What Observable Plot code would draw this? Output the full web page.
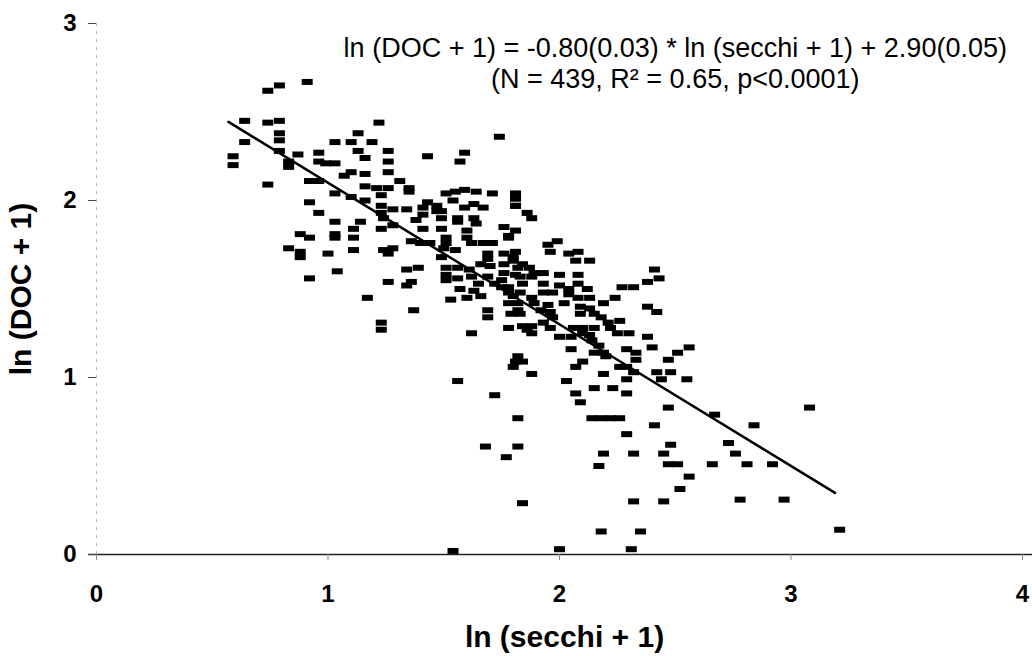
<!DOCTYPE html>
<html>
<head>
<meta charset="utf-8">
<script src="https://cdn.jsdelivr.net/npm/d3@7"></script>
<script src="https://cdn.jsdelivr.net/npm/@observablehq/plot@0.6"></script>
<style>
  html, body { margin: 0; padding: 0; background: #fff; }
  #chart svg text { font-family: "Liberation Sans", Arial, sans-serif; fill: #000; }
  #chart [aria-label="x-axis tick label"] text,
  #chart [aria-label="y-axis tick label"] text { font-size: 24px; font-weight: bold; }
  #chart [aria-label="x-axis label"] text,
  #chart [aria-label="y-axis label"] text { font-size: 30px; font-weight: bold; }
</style>
</head>
<body>
<div id="chart"></div>
<script>
// ---- data ----
const secchi = [
  0.91,0.79,0.74,0.64,0.74,0.79,0.79,0.79,0.64,0.79,0.87,0.59,0.59,0.83,0.83,0.96,0.96,0.99,1.03,1.03,
  1.10,1.13,1.13,1.16,1.10,1.07,1.16,0.92,0.96,0.74,1.03,1.10,1.16,1.16,0.92,0.96,1.03,1.14,0.88,0.92,
  1.03,1.03,1.11,1.11,0.83,0.88,0.88,1.00,1.11,1.04,0.92,1.22,1.74,1.19,1.26,1.43,1.59,1.57,1.26,1.26,
  1.31,1.21,1.26,1.35,1.35,1.51,1.55,1.59,1.64,1.71,1.81,1.81,1.23,1.43,1.47,1.47,1.54,1.63,1.67,1.59,
  1.23,1.28,1.34,1.41,1.41,1.49,1.49,1.23,1.24,1.38,1.56,1.56,1.63,1.64,1.28,1.41,1.49,1.60,1.76,1.23,
  1.36,1.40,1.44,1.51,1.51,1.60,1.62,1.67,1.71,1.78,1.24,1.28,1.26,1.50,1.55,1.49,1.69,1.69,1.76,1.80,
  1.66,1.70,1.76,1.76,1.39,1.34,1.51,1.56,1.61,1.81,1.51,1.51,1.56,1.62,1.65,1.69,1.72,1.75,1.26,1.36,
  1.34,1.57,1.63,1.66,1.78,1.80,1.17,1.53,1.60,1.37,1.69,1.69,1.78,1.82,1.23,1.23,1.78,1.81,1.81,1.81,
  1.86,1.88,1.81,1.78,1.95,1.99,1.96,2.04,2.08,2.07,2.13,1.81,1.80,1.84,1.82,1.87,1.89,1.93,1.83,1.88,
  2.00,2.08,2.41,2.38,2.43,1.75,1.84,1.93,2.00,2.04,2.08,2.12,2.27,2.32,1.78,1.83,1.88,1.93,1.97,2.04,
  2.08,2.13,2.24,2.19,1.82,1.89,1.95,2.02,2.09,2.13,2.38,2.42,1.79,1.83,1.92,1.96,1.97,2.09,2.15,2.18,
  2.21,2.26,1.84,1.88,1.93,1.96,1.86,1.88,2.06,2.10,2.15,2.22,2.25,2.10,2.13,2.00,2.05,2.30,2.38,2.14,
  2.17,2.05,2.40,2.19,2.15,2.20,2.29,2.33,2.33,1.82,1.81,1.84,1.80,2.10,2.07,2.26,2.29,2.32,1.88,2.19,
  2.42,2.03,2.15,2.23,2.29,1.62,2.47,2.51,2.56,2.48,2.55,2.44,1.56,1.72,2.07,2.09,2.29,1.82,2.14,2.18,
  2.22,2.26,2.47,2.41,2.67,2.84,3.08,2.29,1.68,1.82,1.77,2.19,2.32,2.45,2.48,2.47,2.51,2.73,2.76,2.66,
  2.81,2.92,2.17,2.56,2.52,1.84,2.32,2.45,2.78,2.97,2.18,2.35,3.21,1.54,2.00,2.31
];
const doc = [
  2.67,2.65,2.62,2.45,2.44,2.45,2.38,2.34,2.33,2.28,2.26,2.25,2.20,2.22,2.19,2.27,2.22,2.21,2.21,2.33,
  2.33,2.38,2.28,2.24,2.16,2.14,2.15,2.11,2.11,2.09,2.04,2.02,2.08,2.00,1.99,1.93,1.88,1.88,1.81,1.79,
  1.81,1.79,1.84,1.79,1.73,1.71,1.68,1.70,1.72,1.60,1.56,2.44,2.36,2.33,2.28,2.25,2.27,2.22,2.22,2.16,
  2.11,2.07,2.07,2.07,2.05,2.04,2.05,2.06,2.05,2.04,2.02,1.97,2.03,1.99,1.97,1.94,2.00,1.98,1.96,1.96,
  1.97,1.95,1.95,1.96,1.92,1.94,1.90,1.93,1.90,1.89,1.90,1.88,1.90,1.87,1.86,1.84,1.84,1.83,1.85,1.84,
  1.77,1.76,1.76,1.79,1.76,1.79,1.76,1.76,1.76,1.79,1.72,1.73,1.70,1.73,1.72,1.68,1.70,1.67,1.70,1.68,
  1.64,1.63,1.64,1.59,1.62,1.61,1.62,1.62,1.61,1.58,1.58,1.55,1.56,1.57,1.53,1.57,1.53,1.55,1.54,1.54,
  1.52,1.50,1.49,1.46,1.51,1.46,1.45,1.44,1.45,1.38,1.38,1.34,1.42,1.38,1.31,1.27,1.28,2.04,2.01,1.97,
  1.93,1.90,1.83,1.80,1.75,1.77,1.71,1.70,1.71,1.66,1.66,1.71,1.66,1.64,1.62,1.62,1.59,1.59,1.57,1.57,
  1.58,1.58,1.61,1.54,1.56,1.51,1.53,1.53,1.52,1.50,1.53,1.50,1.51,1.51,1.48,1.48,1.45,1.48,1.48,1.47,
  1.45,1.45,1.45,1.42,1.42,1.42,1.41,1.42,1.40,1.39,1.40,1.37,1.36,1.36,1.38,1.37,1.34,1.36,1.36,1.34,
  1.31,1.32,1.29,1.29,1.31,1.28,1.27,1.25,1.28,1.28,1.28,1.28,1.25,1.25,1.24,1.23,1.23,1.25,1.23,1.21,
  1.18,1.16,1.17,1.14,1.14,1.12,1.16,1.14,1.10,1.12,1.09,1.09,1.06,1.09,1.06,1.06,1.06,1.03,1.02,1.02,
  1.03,0.98,0.94,0.94,0.99,1.25,1.10,1.14,1.17,1.03,0.99,0.99,0.98,0.90,0.91,0.86,0.91,0.77,0.77,0.77,
  0.77,0.77,0.83,0.73,0.79,0.73,0.83,0.68,0.61,0.61,0.55,0.57,0.57,0.57,0.62,0.51,0.51,0.63,0.57,0.51,
  0.51,0.51,0.50,0.44,0.37,0.29,0.30,0.30,0.31,0.31,0.13,0.13,0.14,0.02,0.03,0.03
];
// regression printed on the figure: ln(DOC+1) = -0.80 * ln(secchi+1) + 2.90
const slope = -0.80;
const intercept = 2.90;
const fitRange = [0.57, 3.19];
const xTicks = [0, 1, 2, 3, 4];
const yTicks = [0, 1, 2, 3];
const xLabel = "ln (secchi + 1)";
const yLabel = "ln (DOC + 1)";
const equationLines = [
  "ln (DOC + 1) = -0.80(0.03) * ln (secchi + 1) + 2.90(0.05)",
  "(N = 439, R\u00B2 = 0.65, p<0.0001)"
];

// ---- build chart ----
const points = secchi.map((x, i) => ({x, y: doc[i]}));
const fit = fitRange.map(x => ({x, y: intercept + slope * x}));
const dash = { draw(ctx) { ctx.rect(-5.5, -3, 11, 6); } };
const annoX = 2.5, annoY = [2.808, 2.638];

const chart = Plot.plot({
  width: 1032,
  height: 656,
  marginLeft: 96,
  marginRight: 0,
  marginTop: 23,
  marginBottom: 102,
  x: {domain: [0, 4.043]},
  y: {domain: [0, 3]},
  marks: [
    Plot.ruleX([0], {y1: 0, y2: 3, stroke: "#bbb", strokeWidth: 1, strokeDasharray: "3,5"}),
    Plot.ruleY([0], {x1: -0.035, x2: 4.043, stroke: "#222", strokeWidth: 1.5}),
    Plot.axisY({ticks: yTicks, tickSize: 8, tickPadding: 12, tickFormat: d => String(d),
      stroke: "#444", label: yLabel, labelAnchor: "center", labelArrow: "none", labelOffset: 87}),
    Plot.axisX({ticks: xTicks, tickSize: 6, tickPadding: 24, tickFormat: d => String(d),
      stroke: "#888", label: xLabel, labelAnchor: "center", labelArrow: "none", labelOffset: 92}),
    Plot.dot(points, {x: "x", y: "y", symbol: dash, fill: "black", stroke: "none"}),
    Plot.line(fit, {x: "x", y: "y", stroke: "black", strokeWidth: 2.5}),
    Plot.text(equationLines, {x: () => annoX, y: (d, i) => annoY[i], text: d => d,
      fontSize: 27, textAnchor: "middle", lineAnchor: "bottom", fill: "black"})
  ]
});
document.getElementById("chart").appendChild(chart);
</script>
</body>
</html>
